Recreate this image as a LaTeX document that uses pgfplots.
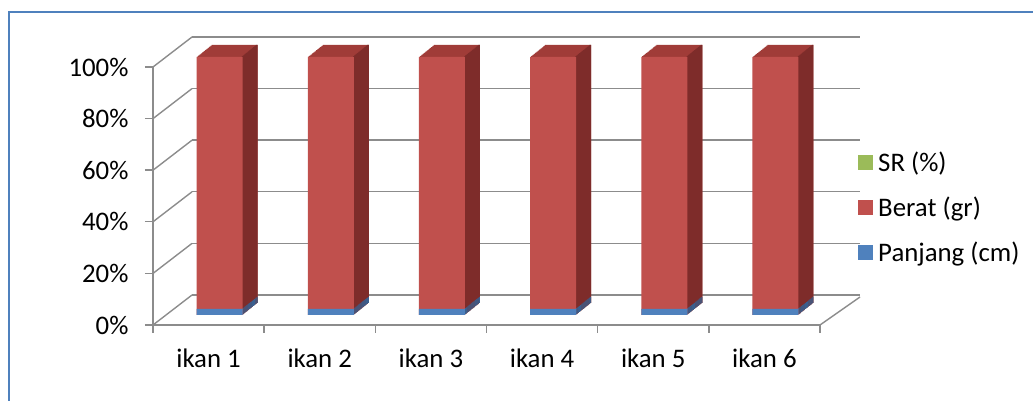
\documentclass[border=0pt]{standalone}
\usepackage{pgfplots}
\usepackage{pgfplotstable}
\pgfplotsset{compat=1.18}
\usepackage{fontspec}
\setmainfont{Carlito}
\definecolor{redF}{HTML}{C0504D}
\definecolor{redT}{HTML}{A03C38}
\definecolor{redS}{HTML}{7E2C2A}
\definecolor{blueF}{HTML}{4F81BD}
\definecolor{blueS}{HTML}{3A5F8E}
\definecolor{srgreen}{HTML}{9BBB59}
\definecolor{gridgray}{HTML}{8C8C8C}
\definecolor{frameblue}{HTML}{4F81BD}

\pgfplotstableread{
x   panjang berat sr
0.5 2.4     97.6  0
1.5 2.4     97.6  0
2.5 2.4     97.6  0
3.5 2.4     97.6  0
4.5 2.4     97.6  0
5.5 2.4     97.6  0
}\datatable

\newcommand{\fs}{\fontsize{26.8bp}{32bp}\selectfont}

\begin{document}
\begin{tikzpicture}
\useasboundingbox (0,0) rectangle (1033bp,401bp);
\draw[frameblue, line width=2bp] (9bp,-20bp) -- (9bp,389bp) -- (1050bp,389bp);

% back wall with grid
\begin{axis}[
  at={(192bp,106bp)}, anchor=south west,
  scale only axis, width=668bp, height=258bp,
  xmin=0, xmax=6, ymin=0, ymax=100,
  axis line style={draw=none},
  xtick=\empty, ytick={0,20,40,60,80,100}, yticklabels={},
  major tick length=0pt,
  ymajorgrids, grid style={gridgray, line width=1.4bp},
]
\end{axis}

% front axis with bars
\begin{axis}[
  at={(153bp,76bp)}, anchor=south west,
  scale only axis, width=667bp, height=258bp,
  xmin=0, xmax=6, ymin=0, ymax=100,
  clip=false,
  axis x line*=bottom, axis y line*=left,
  axis line style={gridgray, line width=1.4bp, -},
  tick style={gridgray, line width=1.4bp},
  tick align=outside, major tick length=8bp,
  xtick={0,1,2,3,4,5,6}, xticklabels={},
  extra x ticks={0.5,1.5,2.5,3.5,4.5,5.5},
  extra x tick labels={ikan 1,ikan 2,ikan 3,ikan 4,ikan 5,ikan 6},
  extra x tick style={major tick length=0pt},
  ytick={0,20,40,60,80,100},
  yticklabel={\pgfmathprintnumber{\tick}\%},
  /pgf/number format/assume math mode=true,
  tick label style={font=\fs},
  yticklabel style={xshift=-13bp},
  xticklabel style={yshift=-20bp},
  legend style={draw=none, fill=none, font=\fs, at={(1.057,0.455)}, anchor=west,
    row sep=20bp, inner sep=0pt, cells={anchor=west},
    nodes={inner xsep=5bp}},
  legend image code/.code={\fill[#1] (0bp,-7.5bp) rectangle (15bp,7.5bp);},
]
% side wall and floor edges
\pgfplotsinvokeforeach{0,20,40,60,80,100}{
  \draw[gridgray, line width=1.4bp] (axis cs:0,#1) -- ++(39bp,30bp);
}
\draw[gridgray, line width=1.4bp] (axis cs:6,0) -- ++(40bp,28bp);

% extrusion (top faces)
\pgfplotsinvokeforeach{16,15,...,1}{
  \addplot[ybar, bar width=46bp, fill=redT, draw=none, forget plot,
    xshift={11bp+#1*0.9375bp}, yshift={10bp+#1*0.75bp}]
    table[x=x, y expr=\thisrow{panjang}+\thisrow{berat}+\thisrow{sr}] {\datatable};
}
% extrusion (side faces)
\pgfplotsinvokeforeach{16,15,...,1}{
  \addplot[ybar, bar width=1.6bp, fill=redS, draw=none, forget plot,
    xshift={11bp+22.2bp+#1*0.9375bp}, yshift={10bp+#1*0.75bp}]
    table[x=x, y expr=\thisrow{panjang}+\thisrow{berat}+\thisrow{sr}] {\datatable};
  \addplot[ybar, bar width=1.6bp, fill=blueS, draw=none, forget plot,
    xshift={11bp+22.2bp+#1*0.9375bp}, yshift={10bp+#1*0.75bp}]
    table[x=x, y=panjang] {\datatable};
}
% front faces
\addplot[ybar, bar width=46bp, fill=redF, draw=none, forget plot,
  xshift=11bp, yshift=10bp]
  table[x=x, y expr=\thisrow{panjang}+\thisrow{berat}+\thisrow{sr}] {\datatable};
\addplot[ybar, bar width=46bp, fill=blueF, draw=none, forget plot,
  xshift=11bp, yshift=10bp]
  table[x=x, y=panjang] {\datatable};

\addlegendimage{fill=srgreen, draw=none}
\addlegendentry{SR (\%)}
\addlegendimage{fill=redF, draw=none}
\addlegendentry{Berat (gr)}
\addlegendimage{fill=blueF, draw=none}
\addlegendentry{Panjang (cm)}
\end{axis}
\end{tikzpicture}
\end{document}
